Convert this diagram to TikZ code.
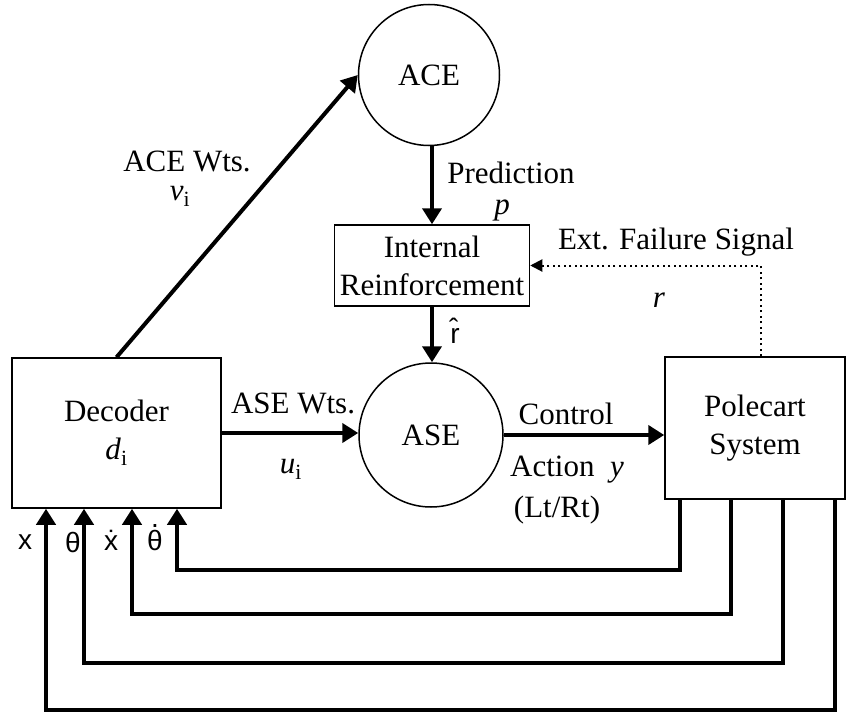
\documentclass[tikz,border=0pt]{standalone}
\usepackage{fontspec}
\setmainfont{Liberation Serif}
\newfontfamily\symfont{Liberation Sans}
\usetikzlibrary{arrows.meta}

\newcommand{\dotover}[1]{{\ooalign{#1\cr\hidewidth\raisebox{0.8em}{.}\hidewidth\cr}}}

\tikzset{
  blockbox/.style={draw, line width=1.5pt, inner sep=0pt, align=center},
  unitcircle/.style={draw, circle, line width=1.5pt, inner sep=0pt},
  sigarrow/.style={line width=4pt, -{Triangle[length=16pt,width=19pt]}},
  failarrow/.style={line width=2pt, dash pattern=on 2pt off 3.5pt, -{Triangle[length=12pt,width=12pt]}},
  lbl/.style={inner sep=0pt, anchor=center},
  statelbl/.style={lbl, font=\symfont\fontsize{28}{30}\selectfont}
}

\begin{document}
\begin{tikzpicture}[x=1pt,y=1pt,yscale=-1,xscale=1]
\fontsize{31}{38}\selectfont
\useasboundingbox (0,0) rectangle (846,717);

% Blocks
\node[unitcircle, minimum size=141pt] (ace) at (429,75) {ACE};
\node[blockbox, minimum width=195pt, minimum height=81pt] (ir) at (432,265.5) {Internal\\Reinforcement};
\node[unitcircle, minimum size=144pt] (ase) at (431,435) {ASE};
\node[blockbox, minimum width=209pt, minimum height=150pt] (dec) at (116.5,433) {Decoder\\\textit{d}\textsubscript{i}};
\node[blockbox, minimum width=180pt, minimum height=142pt] (pole) at (755,428) {Polecart\\System};

% Signal arrows
\draw[sigarrow] (dec.north) -- (ace.west);
\draw[sigarrow] (ir.north |- ace.south) -- (ir.north);
\draw[sigarrow] (ir.south) -- (ir.south |- ase.north);
\draw[sigarrow] (dec.east) -- (dec.east -| ase.west);
\draw[sigarrow] (ase.east) -- (ase.east -| pole.west);
\draw[failarrow] (pole.north -| 761,0) |- (ir.east);

% State feedback
\foreach \xs/\xd/\yy in {680/177/570, 731/132/614, 783/84/663, 835/46/710}
  \draw[sigarrow] (pole.south -| \xs,0) -- (\xs,\yy) -| (dec.south -| \xd,0);

% Text Node
\node[lbl] (lpred) at (511,173) {Prediction};
% Text Node
\node[lbl] (lp) at (502,210) {\textit{p}};
% Text Node
\node[lbl] (lacew) at (187,161) {ACE Wts.};
% Text Node
\node[lbl] (lv) at (180,196) {\textit{v}\textsubscript{i}};
% Text Node
\node[lbl] (lfail) at (676,242) {Ext. Failure Signal};
% Text Node
\node[lbl] (lr) at (659,300) {\textit{r}};
% Text Node
\node[statelbl] (lrhat) at (455,331) {\^{r}};
% Text Node
\node[lbl] (lasew) at (293,403) {ASE Wts.};
% Text Node
\node[lbl] (lu) at (291,469) {\textit{u}\textsubscript{i}};
% Text Node
\node[lbl] (lctrl) at (566,414) {Control};
% Text Node
\node[lbl] (lact) at (567,470) {Action\enspace\textit{y}};
% Text Node
\node[lbl] (llr) at (557,510) {(Lt/Rt)};
% Text Node
\node[statelbl] (lx) at (25,542) {x};
% Text Node
\node[statelbl] (lth) at (73,542) {θ};
% Text Node
\node[statelbl] (lxd) at (111,540) {\.{x}};
% Text Node
\node[statelbl] (lthd) at (155,540) {\dotover{θ}};

\end{tikzpicture}
\end{document}
